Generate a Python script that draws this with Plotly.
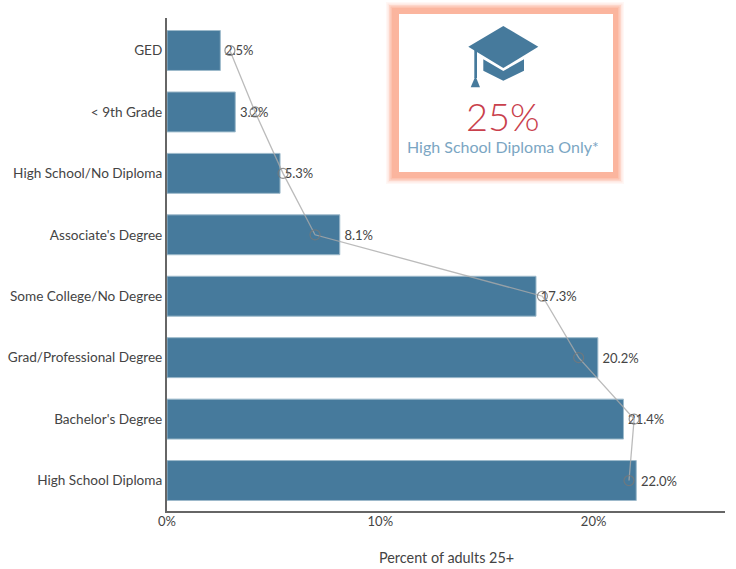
import plotly.graph_objects as go

W, H = 736, 569
L, R, T, B = 167, 725, 18, 511

categories = ["GED", "< 9th Grade", "High School/No Diploma", "Associate's Degree",
              "Some College/No Degree", "Grad/Professional Degree", "Bachelor's Degree",
              "High School Diploma"]
values = [2.5, 3.2, 5.3, 8.1, 17.3, 20.2, 21.4, 22.0]
leader_x = [2.95, 4.13, 5.44, 6.94, 17.6, 19.3, 21.9, 21.66]
x_ticks = [0, 10, 20]
x_tick_labels = ["0%", "10%", "20%"]
x_title = "Percent of adults 25+"
card_value = "25%"
card_label = "High School Diploma Only*"

FONT = "Lato, 'Noto Sans', sans-serif"
BAR = "#467a9c"
TXT = "#444444"


def px(x):
    return (x - L) / (R - L)


def py(y):
    return (B - y) / (B - T)


def poly(points, color):
    d = "M" + " L".join(f"{px(x):.5f},{py(y):.5f}" for x, y in points) + " Z"
    return dict(type="path", xref="paper", yref="paper", path=d,
                fillcolor=color, line=dict(width=0), layer="above")


def rect(x0, y0, x1, y1, color, opacity=1.0):
    return dict(type="rect", xref="paper", yref="paper", x0=px(x0), x1=px(x1),
                y0=py(y0), y1=py(y1), fillcolor=color, opacity=opacity,
                line=dict(width=0), layer="above")


fig = go.Figure()
fig.add_trace(go.Bar(
    y=categories, x=values, orientation="h",
    marker=dict(color=BAR, line=dict(color="#9dbacb", width=1)),
    text=[f"\u2009{v:.1f}%" for v in values], textposition="outside", cliponaxis=False,
    textfont=dict(family=FONT, size=13, color=TXT), hoverinfo="skip", width=0.65,
))
fig.add_trace(go.Scatter(
    y=categories, x=leader_x, mode="lines+markers",
    line=dict(color="rgba(170,170,170,0.8)", width=1.3),
    marker=dict(symbol="circle", size=10, color="rgba(0,0,0,0)",
                line=dict(width=1.2, color="rgba(120,120,120,0.8)")),
    hoverinfo="skip", cliponaxis=False,
))

shapes = []
for inset, op in [(0, 0.10), (1.5, 0.2), (3, 0.35), (4.5, 0.6), (6, 0.9)]:
    shapes.append(rect(386 + inset, 2 + inset, 624 - inset, 184 - inset, "#fbb49c", op))
shapes.append(rect(399, 14, 613, 172, "#ffffff"))
shapes += [
    poly([(503.3, 26), (538.3, 46.7), (503.3, 68), (468.3, 46.7)], BAR),
    poly([(483.3, 59.3), (503.3, 71), (524, 59.3), (524, 70.7), (503.3, 80.7), (483.3, 70.7)], BAR),
    poly([(474.3, 49), (477, 50.5), (477, 78), (474.3, 78)], BAR),
    poly([(475.5, 76), (480, 87.3), (470.7, 87.3)], BAR),
]

annotations = [
    dict(text=card_value, x=px(503), y=py(116), xref="paper", yref="paper", showarrow=False,
         xanchor="center", yanchor="middle", font=dict(family="'Lato Light', Lato, sans-serif", size=38, color="#c9404c")),
    dict(text=card_label, x=px(503.5), y=py(147), xref="paper", yref="paper", showarrow=False,
         xanchor="center", yanchor="middle", font=dict(family=FONT, size=16, color="#7ba6c3")),
    dict(text=x_title, x=px((L + R) / 2), y=py(557), xref="paper", yref="paper", showarrow=False,
         xanchor="center", yanchor="middle", font=dict(family=FONT, size=14.4, color=TXT)),
]

fig.update_layout(
    width=W, height=H, showlegend=False, paper_bgcolor="white", plot_bgcolor="white",
    margin=dict(l=L, r=W - R, t=T, b=H - B, pad=0, autoexpand=False),
    font=dict(family=FONT, size=13, color=TXT),
    shapes=shapes, annotations=annotations,
    xaxis=dict(range=[0, (R - L) / 21.33], tickvals=x_ticks, ticktext=x_tick_labels, automargin=False,
               showgrid=False, zeroline=False, showline=True, linecolor="#666666", linewidth=2,
               ticks="", ticklen=0, ticklabelstandoff=-3, tickfont=dict(family=FONT, size=13, color=TXT)),
    yaxis=dict(categoryorder="array", categoryarray=categories, range=[7.496, -0.529], automargin=False,
               showgrid=False, zeroline=False, showline=True, linecolor="#666666", linewidth=2,
               ticks="", ticklen=0, tickfont=dict(family=FONT, size=13.6, color=TXT)),
)

fig.write_html("out.html", config={"displayModeBar": False},
               post_script="document.body.style.margin='0';document.body.style.overflow='hidden';")
